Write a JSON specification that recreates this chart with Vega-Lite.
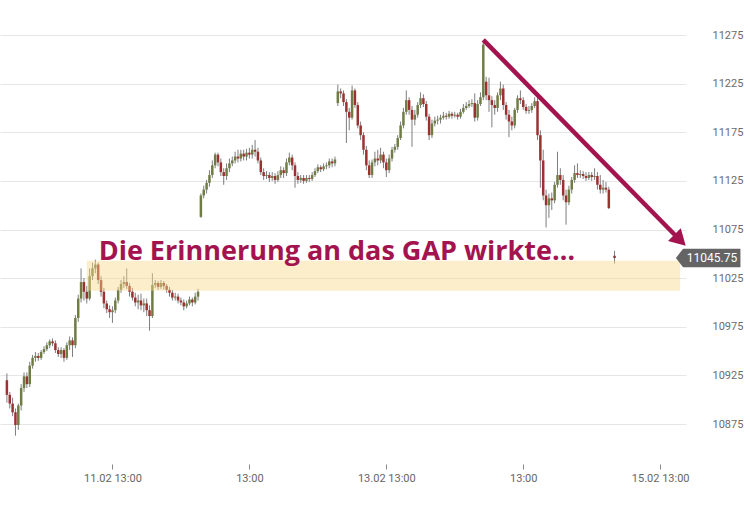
{
"$schema":"https://vega.github.io/schema/vega-lite/v6.json",
"width":686,"height":460,
"autosize":{"type":"none"},
"padding":{"left":0,"top":0,"right":64,"bottom":49},
"background":"#ffffff",
"config":{"view":{"stroke":null},"font":"Roboto"},
"datasets":{
"candles":[
{"t":"2019-02-10T18:30","o":10920,"h":10927,"l":10897,"c":10905},
{"t":"2019-02-10T19:00","o":10905,"h":10908,"l":10891,"c":10896},
{"t":"2019-02-10T19:30","o":10896,"h":10902,"l":10883,"c":10887},
{"t":"2019-02-10T20:00","o":10887,"h":10891,"l":10863,"c":10874},
{"t":"2019-02-10T20:30","o":10874,"h":10896,"l":10869,"c":10894},
{"t":"2019-02-10T21:00","o":10894,"h":10916,"l":10889,"c":10912},
{"t":"2019-02-10T21:30","o":10912,"h":10928,"l":10908,"c":10924},
{"t":"2019-02-10T22:00","o":10924,"h":10928,"l":10912,"c":10916},
{"t":"2019-02-10T22:30","o":10916,"h":10939,"l":10913,"c":10935},
{"t":"2019-02-10T23:00","o":10935,"h":10946,"l":10932,"c":10943},
{"t":"2019-02-10T23:30","o":10943,"h":10949,"l":10939,"c":10945},
{"t":"2019-02-11T00:00","o":10945,"h":10948,"l":10940,"c":10943},
{"t":"2019-02-11T00:30","o":10943,"h":10951,"l":10941,"c":10949},
{"t":"2019-02-11T01:00","o":10949,"h":10955,"l":10947,"c":10952},
{"t":"2019-02-11T01:30","o":10952,"h":10959,"l":10950,"c":10956},
{"t":"2019-02-11T02:00","o":10956,"h":10962,"l":10953,"c":10960},
{"t":"2019-02-11T02:30","o":10960,"h":10963,"l":10955,"c":10958},
{"t":"2019-02-11T03:00","o":10958,"h":10961,"l":10948,"c":10951},
{"t":"2019-02-11T03:30","o":10951,"h":10954,"l":10944,"c":10947},
{"t":"2019-02-11T04:00","o":10947,"h":10954,"l":10943,"c":10951},
{"t":"2019-02-11T04:30","o":10951,"h":10953,"l":10939,"c":10943},
{"t":"2019-02-11T05:00","o":10943,"h":10959,"l":10941,"c":10956},
{"t":"2019-02-11T05:30","o":10956,"h":10965,"l":10951,"c":10961},
{"t":"2019-02-11T06:00","o":10961,"h":10964,"l":10944,"c":10956},
{"t":"2019-02-11T06:30","o":10956,"h":10987,"l":10953,"c":10984},
{"t":"2019-02-11T07:00","o":10984,"h":11008,"l":10980,"c":11004},
{"t":"2019-02-11T07:30","o":11004,"h":11035,"l":11000,"c":11021},
{"t":"2019-02-11T08:00","o":11021,"h":11025,"l":11002,"c":11011},
{"t":"2019-02-11T08:30","o":11011,"h":11017,"l":10999,"c":11004},
{"t":"2019-02-11T09:00","o":11004,"h":11035,"l":11002,"c":11027},
{"t":"2019-02-11T09:30","o":11027,"h":11041,"l":11023,"c":11035},
{"t":"2019-02-11T10:00","o":11035,"h":11044,"l":11030,"c":11039},
{"t":"2019-02-11T10:30","o":11039,"h":11041,"l":11019,"c":11023},
{"t":"2019-02-11T11:00","o":11023,"h":11027,"l":11006,"c":11011},
{"t":"2019-02-11T11:30","o":11011,"h":11015,"l":10994,"c":10999},
{"t":"2019-02-11T12:00","o":10999,"h":11002,"l":10989,"c":10993},
{"t":"2019-02-11T12:30","o":10993,"h":10997,"l":10984,"c":10990},
{"t":"2019-02-11T13:00","o":10990,"h":10996,"l":10979,"c":10992},
{"t":"2019-02-11T13:30","o":10992,"h":11005,"l":10989,"c":11002},
{"t":"2019-02-11T14:00","o":11002,"h":11016,"l":10999,"c":11013},
{"t":"2019-02-11T14:30","o":11013,"h":11023,"l":11010,"c":11019},
{"t":"2019-02-11T15:00","o":11019,"h":11027,"l":11015,"c":11021},
{"t":"2019-02-11T15:30","o":11021,"h":11035,"l":11014,"c":11017},
{"t":"2019-02-11T16:00","o":11017,"h":11020,"l":11006,"c":11011},
{"t":"2019-02-11T16:30","o":11011,"h":11015,"l":11002,"c":11005},
{"t":"2019-02-11T17:00","o":11005,"h":11010,"l":10996,"c":11000},
{"t":"2019-02-11T17:30","o":11000,"h":11008,"l":10993,"c":11002},
{"t":"2019-02-11T18:00","o":11002,"h":11009,"l":10992,"c":10997},
{"t":"2019-02-11T18:30","o":10997,"h":11004,"l":10990,"c":10999},
{"t":"2019-02-11T19:00","o":10999,"h":11004,"l":10986,"c":10992},
{"t":"2019-02-11T19:30","o":10992,"h":10997,"l":10971,"c":10986},
{"t":"2019-02-11T20:00","o":10986,"h":11030,"l":10984,"c":11018},
{"t":"2019-02-11T20:30","o":11018,"h":11023,"l":11015,"c":11020},
{"t":"2019-02-11T21:00","o":11020,"h":11022,"l":11013,"c":11016},
{"t":"2019-02-11T21:30","o":11016,"h":11023,"l":11014,"c":11020},
{"t":"2019-02-11T22:00","o":11020,"h":11022,"l":11013,"c":11017},
{"t":"2019-02-11T22:30","o":11017,"h":11019,"l":11010,"c":11013},
{"t":"2019-02-11T23:00","o":11013,"h":11016,"l":11006,"c":11010},
{"t":"2019-02-11T23:30","o":11010,"h":11013,"l":11002,"c":11005},
{"t":"2019-02-12T00:00","o":11005,"h":11010,"l":11002,"c":11006},
{"t":"2019-02-12T00:30","o":11006,"h":11009,"l":10999,"c":11002},
{"t":"2019-02-12T01:00","o":11002,"h":11005,"l":10997,"c":11000},
{"t":"2019-02-12T01:30","o":11000,"h":11003,"l":10992,"c":10996},
{"t":"2019-02-12T02:00","o":10996,"h":11002,"l":10994,"c":10999},
{"t":"2019-02-12T02:30","o":10999,"h":11006,"l":10997,"c":11003},
{"t":"2019-02-12T03:00","o":11003,"h":11005,"l":10996,"c":11000},
{"t":"2019-02-12T03:30","o":11000,"h":11010,"l":10998,"c":11006},
{"t":"2019-02-12T04:00","o":11006,"h":11014,"l":11002,"c":11011},
{"t":"2019-02-12T04:30","o":11088,"h":11112,"l":11087,"c":11110},
{"t":"2019-02-12T05:00","o":11110,"h":11120,"l":11107,"c":11116},
{"t":"2019-02-12T05:30","o":11116,"h":11126,"l":11112,"c":11123},
{"t":"2019-02-12T06:00","o":11123,"h":11136,"l":11119,"c":11131},
{"t":"2019-02-12T06:30","o":11131,"h":11146,"l":11128,"c":11141},
{"t":"2019-02-12T07:00","o":11141,"h":11154,"l":11138,"c":11152},
{"t":"2019-02-12T07:30","o":11152,"h":11154,"l":11140,"c":11144},
{"t":"2019-02-12T08:00","o":11144,"h":11148,"l":11130,"c":11134},
{"t":"2019-02-12T08:30","o":11134,"h":11138,"l":11121,"c":11130},
{"t":"2019-02-12T09:00","o":11130,"h":11143,"l":11126,"c":11138},
{"t":"2019-02-12T09:30","o":11138,"h":11148,"l":11134,"c":11143},
{"t":"2019-02-12T10:00","o":11143,"h":11150,"l":11140,"c":11146},
{"t":"2019-02-12T10:30","o":11146,"h":11155,"l":11143,"c":11150},
{"t":"2019-02-12T11:00","o":11150,"h":11157,"l":11144,"c":11148},
{"t":"2019-02-12T11:30","o":11148,"h":11157,"l":11145,"c":11153},
{"t":"2019-02-12T12:00","o":11153,"h":11157,"l":11146,"c":11150},
{"t":"2019-02-12T12:30","o":11150,"h":11158,"l":11146,"c":11154},
{"t":"2019-02-12T13:00","o":11154,"h":11159,"l":11148,"c":11152},
{"t":"2019-02-12T13:30","o":11152,"h":11162,"l":11148,"c":11157},
{"t":"2019-02-12T14:00","o":11157,"h":11167,"l":11150,"c":11155},
{"t":"2019-02-12T14:30","o":11155,"h":11159,"l":11143,"c":11146},
{"t":"2019-02-12T15:00","o":11146,"h":11149,"l":11131,"c":11134},
{"t":"2019-02-12T15:30","o":11134,"h":11138,"l":11126,"c":11130},
{"t":"2019-02-12T16:00","o":11130,"h":11135,"l":11127,"c":11131},
{"t":"2019-02-12T16:30","o":11131,"h":11134,"l":11124,"c":11128},
{"t":"2019-02-12T17:00","o":11128,"h":11134,"l":11125,"c":11130},
{"t":"2019-02-12T17:30","o":11130,"h":11133,"l":11122,"c":11126},
{"t":"2019-02-12T18:00","o":11126,"h":11135,"l":11124,"c":11131},
{"t":"2019-02-12T18:30","o":11131,"h":11140,"l":11128,"c":11136},
{"t":"2019-02-12T19:00","o":11136,"h":11139,"l":11128,"c":11133},
{"t":"2019-02-12T19:30","o":11133,"h":11148,"l":11130,"c":11144},
{"t":"2019-02-12T20:00","o":11144,"h":11154,"l":11141,"c":11149},
{"t":"2019-02-12T20:30","o":11149,"h":11152,"l":11136,"c":11141},
{"t":"2019-02-12T21:00","o":11141,"h":11144,"l":11118,"c":11130},
{"t":"2019-02-12T21:30","o":11130,"h":11134,"l":11122,"c":11126},
{"t":"2019-02-12T22:00","o":11126,"h":11131,"l":11123,"c":11128},
{"t":"2019-02-12T22:30","o":11128,"h":11131,"l":11122,"c":11125},
{"t":"2019-02-12T23:00","o":11125,"h":11131,"l":11123,"c":11128},
{"t":"2019-02-12T23:30","o":11128,"h":11131,"l":11124,"c":11127},
{"t":"2019-02-13T00:00","o":11127,"h":11134,"l":11125,"c":11131},
{"t":"2019-02-13T00:30","o":11131,"h":11138,"l":11129,"c":11135},
{"t":"2019-02-13T01:00","o":11135,"h":11142,"l":11133,"c":11139},
{"t":"2019-02-13T01:30","o":11139,"h":11141,"l":11134,"c":11137},
{"t":"2019-02-13T02:00","o":11137,"h":11143,"l":11135,"c":11140},
{"t":"2019-02-13T02:30","o":11140,"h":11144,"l":11137,"c":11141},
{"t":"2019-02-13T03:00","o":11141,"h":11148,"l":11138,"c":11145},
{"t":"2019-02-13T03:30","o":11145,"h":11148,"l":11139,"c":11143},
{"t":"2019-02-13T04:00","o":11143,"h":11150,"l":11140,"c":11147},
{"t":"2019-02-13T04:30","o":11205,"h":11224,"l":11202,"c":11217},
{"t":"2019-02-13T05:00","o":11217,"h":11220,"l":11210,"c":11215},
{"t":"2019-02-13T05:30","o":11215,"h":11218,"l":11202,"c":11206},
{"t":"2019-02-13T06:00","o":11206,"h":11209,"l":11164,"c":11196},
{"t":"2019-02-13T06:30","o":11196,"h":11200,"l":11177,"c":11190},
{"t":"2019-02-13T07:00","o":11190,"h":11223,"l":11188,"c":11218},
{"t":"2019-02-13T07:30","o":11218,"h":11220,"l":11200,"c":11203},
{"t":"2019-02-13T08:00","o":11203,"h":11206,"l":11179,"c":11182},
{"t":"2019-02-13T08:30","o":11182,"h":11186,"l":11167,"c":11172},
{"t":"2019-02-13T09:00","o":11172,"h":11175,"l":11152,"c":11157},
{"t":"2019-02-13T09:30","o":11157,"h":11161,"l":11136,"c":11141},
{"t":"2019-02-13T10:00","o":11141,"h":11146,"l":11128,"c":11131},
{"t":"2019-02-13T10:30","o":11131,"h":11147,"l":11128,"c":11144},
{"t":"2019-02-13T11:00","o":11144,"h":11155,"l":11140,"c":11148},
{"t":"2019-02-13T11:30","o":11148,"h":11157,"l":11141,"c":11146},
{"t":"2019-02-13T12:00","o":11146,"h":11159,"l":11143,"c":11152},
{"t":"2019-02-13T12:30","o":11152,"h":11155,"l":11138,"c":11144},
{"t":"2019-02-13T13:00","o":11144,"h":11148,"l":11129,"c":11136},
{"t":"2019-02-13T13:30","o":11136,"h":11152,"l":11133,"c":11148},
{"t":"2019-02-13T14:00","o":11148,"h":11160,"l":11145,"c":11157},
{"t":"2019-02-13T14:30","o":11157,"h":11163,"l":11154,"c":11160},
{"t":"2019-02-13T15:00","o":11160,"h":11172,"l":11157,"c":11169},
{"t":"2019-02-13T15:30","o":11169,"h":11186,"l":11167,"c":11182},
{"t":"2019-02-13T16:00","o":11182,"h":11200,"l":11179,"c":11196},
{"t":"2019-02-13T16:30","o":11196,"h":11218,"l":11193,"c":11208},
{"t":"2019-02-13T17:00","o":11208,"h":11211,"l":11193,"c":11198},
{"t":"2019-02-13T17:30","o":11198,"h":11202,"l":11160,"c":11188},
{"t":"2019-02-13T18:00","o":11188,"h":11198,"l":11182,"c":11193},
{"t":"2019-02-13T18:30","o":11193,"h":11206,"l":11190,"c":11203},
{"t":"2019-02-13T19:00","o":11203,"h":11216,"l":11200,"c":11210},
{"t":"2019-02-13T19:30","o":11210,"h":11214,"l":11201,"c":11204},
{"t":"2019-02-13T20:00","o":11204,"h":11207,"l":11187,"c":11191},
{"t":"2019-02-13T20:30","o":11191,"h":11194,"l":11167,"c":11172},
{"t":"2019-02-13T21:00","o":11172,"h":11188,"l":11169,"c":11184},
{"t":"2019-02-13T21:30","o":11184,"h":11191,"l":11181,"c":11187},
{"t":"2019-02-13T22:00","o":11187,"h":11192,"l":11183,"c":11188},
{"t":"2019-02-13T22:30","o":11188,"h":11193,"l":11184,"c":11190},
{"t":"2019-02-13T23:00","o":11190,"h":11196,"l":11188,"c":11192},
{"t":"2019-02-13T23:30","o":11192,"h":11195,"l":11188,"c":11191},
{"t":"2019-02-14T00:00","o":11191,"h":11197,"l":11189,"c":11194},
{"t":"2019-02-14T00:30","o":11194,"h":11196,"l":11189,"c":11192},
{"t":"2019-02-14T01:00","o":11192,"h":11196,"l":11190,"c":11193},
{"t":"2019-02-14T01:30","o":11193,"h":11195,"l":11188,"c":11191},
{"t":"2019-02-14T02:00","o":11191,"h":11199,"l":11189,"c":11196},
{"t":"2019-02-14T02:30","o":11196,"h":11204,"l":11194,"c":11200},
{"t":"2019-02-14T03:00","o":11200,"h":11206,"l":11198,"c":11202},
{"t":"2019-02-14T03:30","o":11202,"h":11208,"l":11200,"c":11204},
{"t":"2019-02-14T04:00","o":11204,"h":11209,"l":11201,"c":11205},
{"t":"2019-02-14T04:30","o":11205,"h":11215,"l":11186,"c":11190},
{"t":"2019-02-14T05:00","o":11190,"h":11208,"l":11187,"c":11204},
{"t":"2019-02-14T05:30","o":11204,"h":11216,"l":11202,"c":11211},
{"t":"2019-02-14T06:00","o":11211,"h":11268,"l":11208,"c":11265},
{"t":"2019-02-14T06:30","o":11227,"h":11232,"l":11208,"c":11213},
{"t":"2019-02-14T07:00","o":11213,"h":11231,"l":11196,"c":11208},
{"t":"2019-02-14T07:30","o":11208,"h":11212,"l":11180,"c":11203},
{"t":"2019-02-14T08:00","o":11203,"h":11208,"l":11193,"c":11200},
{"t":"2019-02-14T08:30","o":11200,"h":11216,"l":11196,"c":11213},
{"t":"2019-02-14T09:00","o":11213,"h":11227,"l":11208,"c":11220},
{"t":"2019-02-14T09:30","o":11220,"h":11224,"l":11198,"c":11203},
{"t":"2019-02-14T10:00","o":11203,"h":11206,"l":11188,"c":11193},
{"t":"2019-02-14T10:30","o":11193,"h":11198,"l":11170,"c":11186},
{"t":"2019-02-14T11:00","o":11186,"h":11191,"l":11177,"c":11182},
{"t":"2019-02-14T11:30","o":11182,"h":11200,"l":11179,"c":11198},
{"t":"2019-02-14T12:00","o":11198,"h":11213,"l":11195,"c":11210},
{"t":"2019-02-14T12:30","o":11210,"h":11218,"l":11204,"c":11208},
{"t":"2019-02-14T13:00","o":11208,"h":11211,"l":11198,"c":11201},
{"t":"2019-02-14T13:30","o":11201,"h":11204,"l":11194,"c":11197},
{"t":"2019-02-14T14:00","o":11197,"h":11202,"l":11194,"c":11198},
{"t":"2019-02-14T14:30","o":11198,"h":11205,"l":11195,"c":11202},
{"t":"2019-02-14T15:00","o":11202,"h":11211,"l":11200,"c":11207},
{"t":"2019-02-14T15:30","o":11207,"h":11210,"l":11167,"c":11172},
{"t":"2019-02-14T16:00","o":11172,"h":11177,"l":11118,"c":11146},
{"t":"2019-02-14T16:30","o":11146,"h":11157,"l":11105,"c":11110},
{"t":"2019-02-14T17:00","o":11110,"h":11116,"l":11077,"c":11100},
{"t":"2019-02-14T17:30","o":11100,"h":11112,"l":11087,"c":11107},
{"t":"2019-02-14T18:00","o":11107,"h":11113,"l":11095,"c":11105},
{"t":"2019-02-14T18:30","o":11105,"h":11124,"l":11102,"c":11121},
{"t":"2019-02-14T19:00","o":11121,"h":11155,"l":11118,"c":11131},
{"t":"2019-02-14T19:30","o":11131,"h":11138,"l":11121,"c":11126},
{"t":"2019-02-14T20:00","o":11126,"h":11131,"l":11105,"c":11110},
{"t":"2019-02-14T20:30","o":11110,"h":11116,"l":11080,"c":11103},
{"t":"2019-02-14T21:00","o":11103,"h":11120,"l":11100,"c":11116},
{"t":"2019-02-14T21:30","o":11116,"h":11129,"l":11112,"c":11126},
{"t":"2019-02-14T22:00","o":11126,"h":11141,"l":11123,"c":11133},
{"t":"2019-02-14T22:30","o":11133,"h":11143,"l":11128,"c":11131},
{"t":"2019-02-14T23:00","o":11131,"h":11136,"l":11128,"c":11132},
{"t":"2019-02-14T23:30","o":11132,"h":11135,"l":11127,"c":11130},
{"t":"2019-02-15T00:00","o":11130,"h":11134,"l":11125,"c":11128},
{"t":"2019-02-15T00:30","o":11128,"h":11134,"l":11126,"c":11131},
{"t":"2019-02-15T01:00","o":11131,"h":11134,"l":11125,"c":11129},
{"t":"2019-02-15T01:30","o":11129,"h":11138,"l":11126,"c":11130},
{"t":"2019-02-15T02:00","o":11130,"h":11134,"l":11116,"c":11121},
{"t":"2019-02-15T02:30","o":11121,"h":11131,"l":11112,"c":11116},
{"t":"2019-02-15T03:00","o":11116,"h":11126,"l":11112,"c":11118},
{"t":"2019-02-15T03:30","o":11118,"h":11124,"l":11113,"c":11116},
{"t":"2019-02-15T04:00","o":11116,"h":11119,"l":11096,"c":11097},
{"t":"2019-02-15T05:00","o":11048,"h":11053,"l":11040,"c":11045.75}
],
"band":[{"t1":"2019-02-11T08:30","t2":"2019-02-15T16:30","lo":11012,"hi":11043}],
"arrow":[{"t1":"2019-02-14T06:00","v1":11270,"t2":"2019-02-15T16:09","v2":11066}],
"head":[{"t":"2019-02-15T16:09","v":11066}],
"note":[{"t":"2019-02-11T10:35","v":11043.5,"label":"Die Erinnerung an das GAP wirkte…"}],
"last":[{"t":"2019-02-15T16:39","v":11045.75,"label":"11045.75"}]
},
"layer":[
{"data":{"name":"candles"},
 "mark":{"type":"rule","color":"#7d7d7d","strokeWidth":1,"clip":true},
 "encoding":{
  "x":{"field":"t","type":"temporal","title":null,
   "scale":{"domain":[{"year":2019,"month":2,"date":10,"hours":18,"minutes":10},{"year":2019,"month":2,"date":15,"hours":16,"minutes":39}]},
   "axis":{"title":null,"orient":"bottom","grid":false,"domain":false,"ticks":true,"tickSize":5,"tickColor":"#888888","offset":4,"labelPadding":3,"labelColor":"#666666","labelFontSize":11,"labelFont":"Roboto","labelOverlap":false,"labelBound":false,"labelFlush":false,
    "values":[{"year":2019,"month":2,"date":11,"hours":13},{"year":2019,"month":2,"date":12,"hours":13},{"year":2019,"month":2,"date":13,"hours":13},{"year":2019,"month":2,"date":14,"hours":13},{"year":2019,"month":2,"date":15,"hours":13}],
    "labelExpr":"date(datum.value) % 2 == 1 ? timeFormat(datum.value, '%d.%m %H:%M') : timeFormat(datum.value, '%H:%M')"}},
  "y":{"field":"l","type":"quantitative","title":null,
   "scale":{"domain":[10838,11311],"nice":false,"zero":false},
   "axis":{"title":null,"orient":"right","format":"d","grid":true,"gridColor":"#e6e6e6","gridWidth":1,"domain":false,"ticks":false,"labelPadding":26,"labelColor":"#6b6b6b","labelFontSize":11,"labelFont":"Roboto",
    "values":[10875,10925,10975,11025,11075,11125,11175,11225,11275]}},
  "y2":{"field":"h"}}},
{"data":{"name":"candles"},
 "mark":{"type":"bar","width":2.5,"clip":true},
 "encoding":{
  "x":{"field":"t","type":"temporal","title":null},
  "y":{"field":"o","type":"quantitative","title":null},
  "y2":{"field":"c"},
  "color":{"condition":{"test":"datum.o < datum.c","value":"#6f7d45"},"value":"#9b3131"}}},
{"data":{"name":"band"},
 "mark":{"type":"rect","color":"#f9d98a","opacity":0.45},
 "encoding":{
  "x":{"field":"t1","type":"temporal","title":null},"x2":{"field":"t2"},
  "y":{"field":"lo","type":"quantitative","title":null},"y2":{"field":"hi"}}},
{"data":{"name":"arrow"},
 "mark":{"type":"rule","color":"#a3144f","strokeWidth":4.5,"clip":false},
 "encoding":{
  "x":{"field":"t1","type":"temporal","title":null},"x2":{"field":"t2"},
  "y":{"field":"v1","type":"quantitative","title":null},"y2":{"field":"v2"}}},
{"data":{"name":"head"},
 "mark":{"type":"point","shape":"M 1.07 0 L -0.53 0.9 L -0.53 -0.9 Z","size":400,"angle":45,"filled":true,"color":"#a3144f","opacity":1,"clip":false},
 "encoding":{
  "x":{"field":"t","type":"temporal","title":null},
  "y":{"field":"v","type":"quantitative","title":null}}},
{"data":{"name":"note"},
 "mark":{"type":"text","align":"left","baseline":"alphabetic","font":"Open Sans","fontWeight":"bold","fontSize":27,"color":"#a3144f"},
 "encoding":{
  "x":{"field":"t","type":"temporal","title":null},
  "y":{"field":"v","type":"quantitative","title":null},
  "text":{"field":"label"}}},
{"data":{"name":"last"},
 "mark":{"type":"point","shape":"M -0.5 0 L 0.2 -0.9 L 5.8 -0.9 L 5.8 0.9 L 0.2 0.9 Z","size":420,"filled":true,"color":"#646464","opacity":1,"clip":false},
 "encoding":{
  "x":{"field":"t","type":"temporal","title":null},
  "y":{"field":"v","type":"quantitative","title":null}}},
{"data":{"name":"last"},
 "mark":{"type":"text","align":"center","baseline":"middle","dx":31,"font":"Roboto","fontSize":12,"color":"#ffffff","clip":false},
 "encoding":{
  "x":{"field":"t","type":"temporal","title":null},
  "y":{"field":"v","type":"quantitative","title":null},
  "text":{"field":"label"}}}
]
}
